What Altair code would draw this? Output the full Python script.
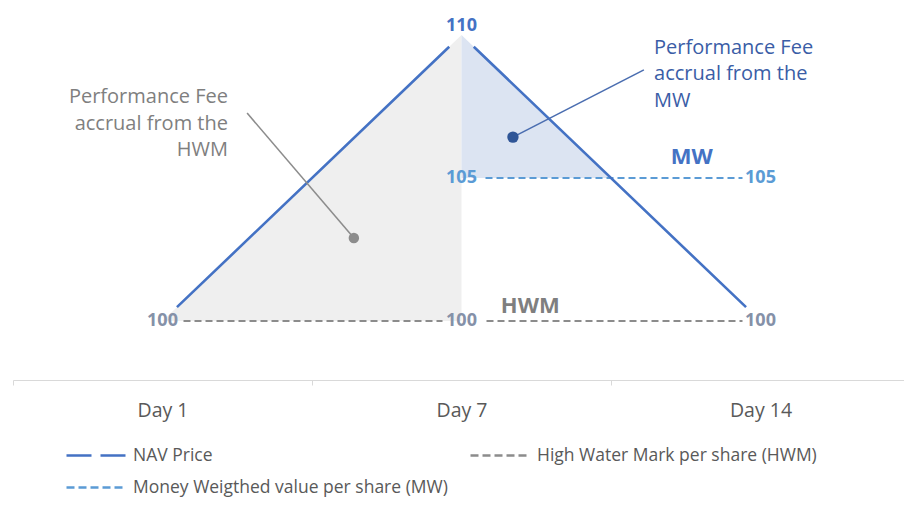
import math
import altair as alt
import pandas as pd

# ---------------- data ----------------
days = ["Day 1", "Day 7", "Day 14"]
nav = [100, 110, 100]
hwm = [100, 100, 100]
mw_days = ["Day 7", "Day 14"]
mw = [105, 105]
series_names = ["NAV Price", "High Water Mark per share (HWM)",
                "Money Weigthed value per share (MW)"]
series_colors = ["#4472C4", "#8C8C8C", "#5B9BD5"]
# legend order (filled column by column: NAV, MW | HWM)
legend_order = [series_names[0], series_names[2], series_names[1]]

ann_hwm_text = ["Performance Fee", "accrual from the", "HWM"]
ann_mw_text = ["Performance Fee", "accrual from the", "MW"]

# ---------------- layout ----------------
SX = 299.0                      # px per category band
W, H = 891, 372
X_DOM = [0, W / SX]
Y_DOM = [97.937, 110.944]
SY = H / (Y_DOM[1] - Y_DOM[0])
FONT = "Open Sans"

pos = {d: i + 0.5 for i, d in enumerate(days)}


def gapped_dash(points, gaps, dash=None):
    """Build an SVG dash array leaving gaps (px) around each vertex."""
    pieces = []
    for i in range(len(points) - 1):
        (x0, y0), (x1, y1) = points[i], points[i + 1]
        L = math.hypot((x1 - x0) * SX, (y1 - y0) * SY)
        g0, g1 = gaps[i]
        vis = L - g0 - g1
        pieces.append([g0, False])
        if dash is None:
            pieces.append([vis, True])
        else:
            t = 0.0
            while t < vis - 1e-6:
                d = min(dash[0], vis - t)
                pieces.append([d, True])
                t += d
                if t < vis - 1e-6:
                    g = min(dash[1], vis - t)
                    pieces.append([g, False])
                    t += g
        pieces.append([g1, False])
    merged = []
    for ln, on in pieces:
        if merged and merged[-1][1] == on:
            merged[-1][0] += ln
        else:
            merged.append([ln, on])
    if not merged[0][1]:
        merged.insert(0, [0, True])
    return [round(m[0], 2) for m in merged]


nav_pts = [(pos[d], v) for d, v in zip(days, nav)]
hwm_pts = [(pos[d], v) for d, v in zip(days, hwm)]
mw_pts = [(pos[d], v) for d, v in zip(mw_days, mw)]
nav_dash = gapped_dash(nav_pts, [(20, 17), (17, 20)])
hwm_dash = gapped_dash(hwm_pts, [(21, 19), (25, 18)], dash=(7, 4))
mw_dash = gapped_dash(mw_pts, [(24, 18)], dash=(7, 4))

nav_df = pd.DataFrame({"x": [pos[d] for d in days], "y": nav, "series": series_names[0]})
hwm_df = pd.DataFrame({"x": [pos[d] for d in days], "y": hwm, "series": series_names[1]})
mw_df = pd.DataFrame({"x": [pos[d] for d in mw_days], "y": mw, "series": series_names[2]})
lines_df = pd.concat([nav_df, hwm_df, mw_df], ignore_index=True)

# grey area: NAV above HWM between Day 1 and Day 7
grey_df = pd.DataFrame({"x": [pos[days[0]], pos[days[1]]], "y": nav[:2], "y2": hwm[:2]})
# blue area: NAV above MW from Day 7 until NAV crosses MW
t = (nav[1] - mw[0]) / (nav[1] - nav[2])
cross_x = pos[days[1]] + t * (pos[days[2]] - pos[days[1]])
blue_df = pd.DataFrame({"x": [pos[days[1]], cross_x], "y": [nav[1], mw[0]], "y2": [mw[0], mw[0]]})

peak_lbl = pd.DataFrame({"x": [pos[days[1]]], "y": [nav[1]], "t": [str(nav[1])]})
hwm_lbl = pd.DataFrame({"x": [pos[d] for d in days], "y": hwm, "t": [str(v) for v in hwm]})
mw_lbl = pd.DataFrame({"x": [pos[d] for d in mw_days], "y": mw, "t": [str(v) for v in mw]})

tag_mw = pd.DataFrame({"x": [2.27], "y": [mw[0]], "t": ["MW"]})
tag_hwm = pd.DataFrame({"x": [1.73], "y": [hwm[0]], "t": ["HWM"]})

ann_hwm = pd.DataFrame({"x": [0.719], "y": [107.83]})
ann_hwm["t"] = [ann_hwm_text]
lead_hwm = pd.DataFrame({"x": [0.783], "y": [107.27], "x2": [1.14], "y2": [102.9]})
ann_mw = pd.DataFrame({"x": [2.144], "y": [109.55]})
ann_mw["t"] = [ann_mw_text]
lead_mw = pd.DataFrame({"x": [2.11], "y": [108.78], "x2": [1.672], "y2": [106.43]})

ticks_expr = "[" + ",".join(f"'{d}'" for d in days) + "]"
xscale = alt.Scale(domain=X_DOM, nice=False, zero=False)
yscale = alt.Scale(domain=Y_DOM, nice=False, zero=False)
xaxis = alt.Axis(
    values=[0, 0.5, 1, 1.5, 2, 2.5],
    labelExpr=f"datum.value % 1 == 0 ? '' : {ticks_expr}[floor(datum.value)]",
    title=None, grid=False, domainColor="#D9D9D9", domainWidth=1,
    tickColor={"condition": {"test": "datum.value % 1 == 0", "value": "#D9D9D9"},
               "value": "transparent"},
    tickSize=5, labelPadding=16, labelFont=FONT, labelFontSize=19.5,
    labelColor="#595959", labelOverlap=False, labelFlush=False,
)


def X(f="x"):
    return alt.X(f, type="quantitative", scale=xscale, axis=xaxis)


def Y(f="y"):
    return alt.Y(f, type="quantitative", scale=yscale, axis=None)


grey = alt.Chart(grey_df).mark_area(color="#EFEFEF", opacity=1).encode(
    x=X(), y=Y(), y2="y2")
blue = alt.Chart(blue_df).mark_area(color="#DCE4F2", opacity=1).encode(
    x=X(), y=Y(), y2="y2")

nav_line = alt.Chart(nav_df).mark_line(color=series_colors[0], strokeWidth=2.6,
                                       strokeDash=nav_dash).encode(x=X(), y=Y())
hwm_line = alt.Chart(hwm_df).mark_line(color=series_colors[1], strokeWidth=2,
                                       strokeDash=hwm_dash).encode(x=X(), y=Y())
mw_line = alt.Chart(mw_df).mark_line(color=series_colors[2], strokeWidth=2,
                                     strokeDash=mw_dash).encode(x=X(), y=Y())

leg = alt.Legend(
    title=None, orient="none", legendX=72, legendY=436, columns=2,
    symbolType="M-3,0H3", symbolSize=400, symbolStrokeWidth=2.5, symbolOpacity=1,
    symbolFillColor="transparent",
    labelFont=FONT, labelFontSize=17.5, labelColor="#595959", labelLimit=500,
    labelOffset=25, columnPadding=17, rowPadding=12,
)
legend_carrier = alt.Chart(lines_df).mark_line(opacity=0).encode(
    x=X(), y=Y(),
    color=alt.Color("series:N", scale=alt.Scale(domain=legend_order,
                    range=[series_colors[0], series_colors[2], series_colors[1]]),
                    sort=legend_order, legend=leg),
    strokeDash=alt.StrokeDash("series:N", scale=alt.Scale(domain=legend_order,
                              range=[[25, 9], [8, 4], [8, 4]]),
                              sort=legend_order, legend=leg),
)

lead1 = alt.Chart(lead_hwm).mark_rule(color="#8C8C8C", strokeWidth=1.6).encode(
    x=X(), y=Y(), x2="x2", y2="y2")
dot1 = alt.Chart(lead_hwm).mark_circle(color="#8C8C8C", size=110, opacity=1).encode(
    x=X("x2"), y=Y("y2"))
lead2 = alt.Chart(lead_mw).mark_rule(color="#4A6DB0", strokeWidth=1.6).encode(
    x=X(), y=Y(), x2="x2", y2="y2")
dot2 = alt.Chart(lead_mw).mark_circle(color="#2F5597", size=130, opacity=1).encode(
    x=X("x2"), y=Y("y2"))

txt1 = alt.Chart(ann_hwm).mark_text(align="right", baseline="middle", font=FONT,
                                    fontSize=20, lineHeight=26.5, color="#7F7F7F").encode(
    x=X(), y=Y(), text="t")
txt2 = alt.Chart(ann_mw).mark_text(align="left", baseline="middle", font=FONT,
                                   fontSize=20, lineHeight=26.5, color="#3A5DA6").encode(
    x=X(), y=Y(), text="t")

peak_t = alt.Chart(peak_lbl).mark_text(font=FONT, fontSize=18, fontWeight="bold",
                                       color="#4472C4", dy=-9, baseline="middle").encode(
    x=X(), y=Y(), text="t")
hwm_t = alt.Chart(hwm_lbl).mark_text(font=FONT, fontSize=18, fontWeight="bold",
                                     color="#8591A8", baseline="middle").encode(
    x=X(), y=Y(), text="t")
mw_t = alt.Chart(mw_lbl).mark_text(font=FONT, fontSize=18, fontWeight="bold",
                                   color="#5B9BD5", baseline="middle").encode(
    x=X(), y=Y(), text="t")
tag1 = alt.Chart(tag_mw).mark_text(font=FONT, fontSize=22, fontWeight="bold",
                                   color="#4472C4", dy=-21, baseline="middle").encode(
    x=X(), y=Y(), text="t")
tag2 = alt.Chart(tag_hwm).mark_text(font=FONT, fontSize=22, fontWeight="bold",
                                    color="#7F7F7F", dy=-15, baseline="middle").encode(
    x=X(), y=Y(), text="t")

chart = alt.layer(
    grey, blue, hwm_line, mw_line, nav_line, legend_carrier,
    lead1, dot1, lead2, dot2, txt1, txt2, peak_t, hwm_t, mw_t, tag1, tag2,
).properties(
    width=W, height=H,
    padding={"left": 5, "top": 0, "right": 0, "bottom": 118},
    autosize=alt.AutoSizeParams(type="none"),
    background="white",
).configure_view(stroke=None)

chart.save("out.html", embed_options={"renderer": "svg", "actions": False})
